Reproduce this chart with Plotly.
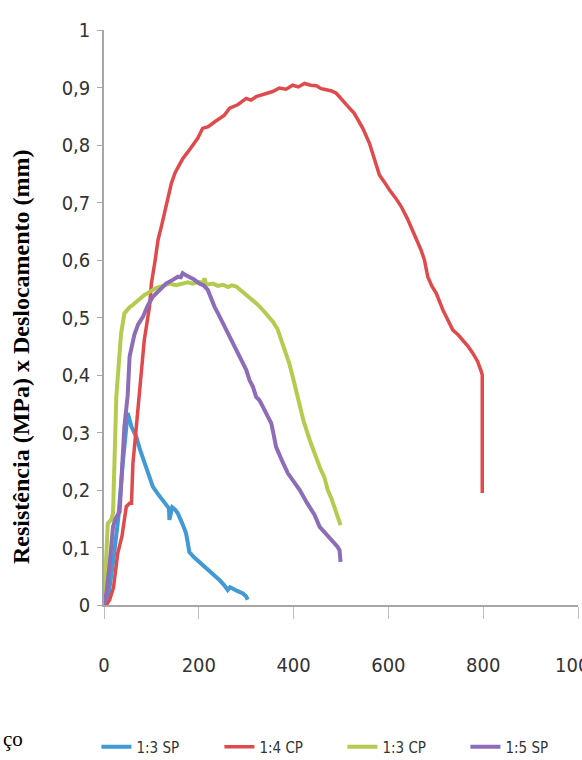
import plotly.graph_objects as go

# 1:3 SP
x_13sp = [0, 10, 20, 30, 40, 47, 50, 58, 68, 76, 85, 94, 103, 112, 121, 129, 137, 138, 141, 144, 150, 156, 165, 173, 176, 180, 190, 201, 212, 223, 234, 244, 252, 261, 266, 272, 282, 293, 300, 303]
y_13sp = [0, 0.02, 0.08, 0.15, 0.25, 0.31, 0.334, 0.31, 0.293, 0.27, 0.247, 0.225, 0.206, 0.195, 0.186, 0.176, 0.168, 0.148, 0.162, 0.170, 0.166, 0.159, 0.142, 0.125, 0.112, 0.092, 0.083, 0.075, 0.068, 0.058, 0.050, 0.043, 0.036, 0.026, 0.031, 0.029, 0.024, 0.020, 0.015, 0.009]

# 1:4 CP
x_14cp = [0, 5, 12, 20, 29, 38, 47, 54, 58, 61, 66, 71, 78, 85, 96, 100, 108, 114, 121, 132, 142, 150, 156, 166, 177, 188, 198, 208, 220, 233, 244, 254, 265, 282, 300, 310, 321, 332, 342, 356, 370, 384, 398, 410, 423, 436, 448, 458, 469, 480, 490, 504, 516, 528, 546, 560, 571, 581, 592, 602, 615, 627, 640, 651, 660, 669, 676, 683, 692, 701, 715, 725, 736, 747, 757, 768, 778, 788, 796, 798, 798]
y_14cp = [0, 0, 0.009, 0.03, 0.090, 0.12, 0.171, 0.177, 0.177, 0.246, 0.29, 0.333, 0.391, 0.461, 0.519, 0.559, 0.60, 0.635, 0.658, 0.70, 0.733, 0.752, 0.762, 0.776, 0.788, 0.800, 0.812, 0.829, 0.832, 0.840, 0.846, 0.852, 0.864, 0.870, 0.881, 0.878, 0.884, 0.887, 0.890, 0.893, 0.899, 0.897, 0.904, 0.901, 0.907, 0.904, 0.903, 0.898, 0.896, 0.894, 0.890, 0.878, 0.866, 0.855, 0.829, 0.803, 0.774, 0.748, 0.735, 0.722, 0.708, 0.693, 0.672, 0.652, 0.635, 0.617, 0.600, 0.571, 0.554, 0.542, 0.513, 0.496, 0.478, 0.470, 0.461, 0.450, 0.438, 0.424, 0.406, 0.400, 0.195]

# 1:3 CP
x_13cp = [0, 5, 8, 15, 19, 26, 29, 36, 43, 47, 54, 61, 72, 85, 97, 110, 124, 138, 152, 166, 177, 187, 200, 208, 212, 216, 230, 240, 251, 262, 270, 279, 286, 293, 304, 314, 325, 335, 346, 356, 366, 374, 383, 391, 400, 408, 421, 434, 445, 455, 465, 472, 480, 486, 493, 499]
y_13cp = [0, 0.08, 0.142, 0.148, 0.159, 0.362, 0.391, 0.472, 0.507, 0.512, 0.518, 0.522, 0.530, 0.539, 0.545, 0.551, 0.555, 0.559, 0.556, 0.559, 0.561, 0.559, 0.562, 0.560, 0.568, 0.557, 0.559, 0.555, 0.557, 0.553, 0.556, 0.554, 0.549, 0.545, 0.538, 0.530, 0.522, 0.513, 0.503, 0.493, 0.480, 0.461, 0.440, 0.420, 0.391, 0.362, 0.320, 0.287, 0.262, 0.240, 0.222, 0.200, 0.185, 0.171, 0.152, 0.139]

# 1:5 SP
x_15sp = [0, 5, 12, 19, 24, 29, 33, 36, 40, 43, 50, 54, 64, 72, 82, 92, 103, 117, 131, 144, 156, 162, 166, 172, 180, 190, 201, 210, 219, 226, 233, 240, 247, 258, 268, 279, 290, 300, 307, 314, 321, 328, 335, 344, 353, 358, 363, 375, 388, 400, 413, 428, 444, 455, 466, 476, 485, 493, 497, 499]
y_15sp = [0, 0.02, 0.072, 0.136, 0.150, 0.159, 0.162, 0.206, 0.275, 0.310, 0.365, 0.432, 0.470, 0.488, 0.501, 0.520, 0.536, 0.548, 0.559, 0.565, 0.571, 0.570, 0.577, 0.574, 0.571, 0.566, 0.559, 0.556, 0.548, 0.533, 0.519, 0.508, 0.496, 0.478, 0.460, 0.443, 0.426, 0.409, 0.391, 0.380, 0.362, 0.356, 0.345, 0.330, 0.316, 0.296, 0.275, 0.252, 0.229, 0.215, 0.200, 0.178, 0.157, 0.136, 0.126, 0.119, 0.110, 0.101, 0.095, 0.075]

series_names = ["1:3 SP", "1:4 CP", "1:3 CP", "1:5 SP"]
series_x = [x_13sp, x_14cp, x_13cp, x_15sp]
series_y = [y_13sp, y_14cp, y_13cp, y_15sp]
series_colors = ["#4199D5", "#E04A4C", "#B5CB4F", "#8D6DB8"]
series_widths = [4, 3.5, 4, 4]

y_tickvals = [0, 0.1, 0.2, 0.3, 0.4, 0.5, 0.6, 0.7, 0.8, 0.9, 1]
y_ticktext = ["0", "0,1", "0,2", "0,3", "0,4", "0,5", "0,6", "0,7", "0,8", "0,9", "1"]
x_tickvals = [0, 200, 400, 600, 800, 1000]
x_ticktext = ["0", "200", "400", "600", "800", "1000"]

narrow = "DejaVu Sans Condensed, DejaVu Sans, sans-serif"

fig = go.Figure()
for name, xs, ys, c, w in zip(series_names, series_x, series_y, series_colors, series_widths):
    fig.add_trace(go.Scatter(x=xs, y=ys, mode="lines", name=name,
                             line=dict(color=c, width=w)))

fig.update_layout(
    width=582, height=760,
    margin=dict(l=104, r=4, t=30, b=155, autoexpand=False),
    plot_bgcolor="white", paper_bgcolor="white",
    showlegend=True,
    legend=dict(orientation="h", x=-0.016, y=-0.247, xanchor="left", yanchor="middle",
                font=dict(family=narrow, size=15, color="#333333"),
                entrywidth=78, entrywidthmode="pixels", itemwidth=30,
                bgcolor="rgba(0,0,0,0)"),
    xaxis=dict(range=[0, 1000], tickvals=x_tickvals, ticktext=x_ticktext,
               showgrid=False, zeroline=False, showline=True, linecolor="#A6A6A6",
               linewidth=1.5, ticks="outside", ticklen=12, tickcolor="#BFBFBF",
               ticklabelstandoff=29, ticklabeloverflow="allow",
               tickfont=dict(family=narrow, size=20, color="#333333")),
    yaxis=dict(range=[0, 1], tickvals=y_tickvals, ticktext=y_ticktext,
               showgrid=False, zeroline=False, showline=True, linecolor="#A6A6A6",
               linewidth=1.5, ticks="outside", ticklen=5, tickcolor="#A6A6A6",
               ticklabelstandoff=3,
               tickfont=dict(family=narrow, size=20, color="#333333")),
    annotations=[
        dict(text="<b>Resistência (MPa) x Deslocamento (mm)</b>", textangle=-90,
             xref="paper", yref="paper", x=(21 - 104) / 474, y=(605 - 357) / 575,
             xanchor="center", yanchor="middle", showarrow=False,
             font=dict(family="Liberation Serif, Times New Roman, serif", size=24, color="black")),
        dict(text="ço", xref="paper", yref="paper", x=(1 - 104) / 474, y=(605 - 739) / 575,
             xanchor="left", yanchor="middle", showarrow=False,
             font=dict(family="Liberation Serif, Times New Roman, serif", size=21, color="black")),
    ],
)

fig.write_html("out.html")
